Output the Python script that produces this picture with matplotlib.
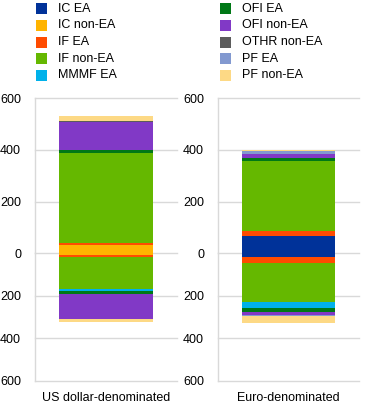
import matplotlib
matplotlib.use("Agg")
import matplotlib.pyplot as plt
from matplotlib.patches import Rectangle

plt.rcParams['font.family'] = ['Liberation Sans', 'DejaVu Sans']

categories = ["US dollar-denominated", "Euro-denominated"]
series = ["IC EA", "IC non-EA", "IF EA", "IF non-EA", "MMMF EA",
          "OFI EA", "OFI non-EA", "OTHR non-EA", "PF EA", "PF non-EA"]
colors = ["#003299", "#FFB400", "#FF4B00", "#65B800", "#00B1EA",
          "#007816", "#8139C6", "#5C5C5C", "#8299D0", "#FDD985"]

# positive (upper) and negative (lower, magnitudes) stacks per category
usd_pos = [0, 32, 7, 350, 0, 12, 107, 3, 2, 18]
usd_neg = [0, 8, 9, 152, 8, 13, 119, 0, 0, 13]
eur_pos = [67, 0, 19, 272, 0, 12, 16, 0, 10, 3]
eur_neg = [17, 0, 30, 181, 30, 17, 16, 0, 3, 33]

pos_vals = [usd_pos, eur_pos]
neg_vals = [usd_neg, eur_neg]

W, H = 372, 409
fig = plt.figure(figsize=(W / 100, H / 100), dpi=100)

grid_c = "#D9D9D9"
text_c = "#000000"

def px_axes(x0, y0, x1, y1):
    return fig.add_axes([x0 / W, 1 - y1 / H, (x1 - x0) / W, (y1 - y0) / H])

panels = [(35, 177), (218, 359)]
y_top, y_zero, y_bot = 98.3, 253.3, 380.7
bar_w = 0.66

for ci, (xl, xr) in enumerate(panels):
    ax_t = px_axes(xl, y_top, xr, y_zero)
    ax_b = px_axes(xl, y_zero, xr, y_bot)
    for ax in (ax_t, ax_b):
        ax.set_xlim(-0.5, 0.5)
        ax.set_xticks([])
        for s in ("top", "right", "bottom"):
            ax.spines[s].set_visible(False)
        ax.spines["left"].set_color(grid_c)
        ax.spines["left"].set_linewidth(1)
        ax.set_axisbelow(True)
        ax.grid(axis="y", color=grid_c, linewidth=1)
        ax.tick_params(axis="y", length=0, pad=10, labelsize=9, colors=text_c)
        ax.patch.set_alpha(0)
    ax_t.set_ylim(0, 600)
    ax_t.set_yticks([0, 200, 400, 600])
    ax_b.set_ylim(600, 0)
    ax_b.set_yticks([200, 400, 600])
    for ax in (ax_t, ax_b):
        for gl in ax.get_ygridlines():
            gl.set_clip_on(False)

    bottom = 0
    for v, c in zip(pos_vals[ci], colors):
        if v:
            ax_t.bar(0, v, bottom=bottom, width=bar_w, color=c, linewidth=0, zorder=3)
        bottom += v
    bottom = 0
    for v, c in zip(neg_vals[ci], colors):
        if v:
            ax_b.bar(0, v, bottom=bottom, width=bar_w, color=c, linewidth=0, zorder=3)
        bottom += v

    fig.text(((xl + xr) / 2 - 0) / W, 1 - 398 / H, categories[ci],
             ha="center", va="center", fontsize=9, color=text_c)

# legend
row_y = [8.7 + 16.65 * i for i in range(5)]
col_x = [36, 220]
for i, (name, c) in enumerate(zip(series, colors)):
    col = i // 5
    row = i % 5
    x = col_x[col]
    y = row_y[row]
    fig.patches.append(Rectangle((x / W, 1 - (y + 5.5) / H), 11 / W, 11 / H,
                                 transform=fig.transFigure, facecolor=c,
                                 edgecolor="none"))
    fig.text((x + 22) / W, 1 - y / H, name, ha="left", va="center",
             fontsize=9, color=text_c)

fig.savefig("out.png", dpi=100)
